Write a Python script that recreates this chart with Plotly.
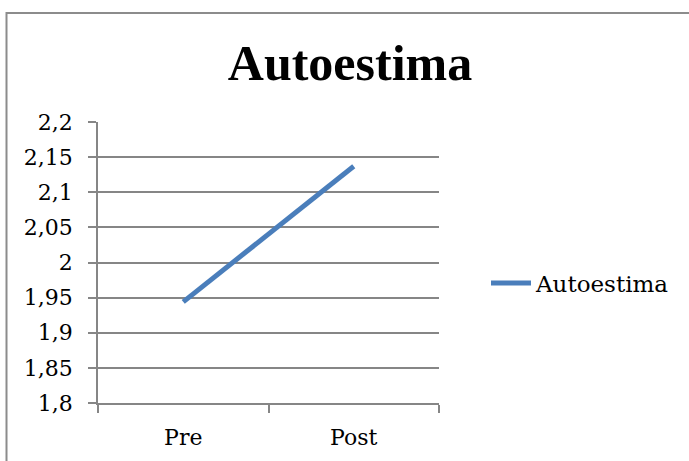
import plotly.graph_objects as go

categories = ["Pre", "Post"]
values = [1.944, 2.137]
series_name = "Autoestima"
title_text = "Autoestima"
y_ticks = [1.8, 1.85, 1.9, 1.95, 2.0, 2.05, 2.1, 2.15, 2.2]
y_labels = ["1,8", "1,85", "1,9", "1,95", "2", "2,05", "2,1", "2,15", "2,2"]

W, H = 689, 461
L, R, T, B = 98, 250, 122, 58
pw, ph = W - L - R, H - T - B

def px2x(px):
    return (px - L) / pw

def py2y(py):
    return (H - B - py) / ph

blue = "#4A7EBB"
grey = "#868686"
font_reg = "DejaVu Serif"

fig = go.Figure()
fig.add_trace(go.Scatter(
    x=categories, y=values, mode="lines", name=series_name,
    line=dict(color=blue, width=5), showlegend=True,
))

fig.update_layout(
    width=W, height=H,
    margin=dict(l=L, r=R, t=T, b=B),
    paper_bgcolor="white", plot_bgcolor="white",
    title=dict(text="<b>" + title_text + "</b>", x=350 / W, xanchor="center",
               y=1 - 62 / H, yanchor="middle", yref="container",
               font=dict(family="Liberation Serif", size=50, color="black")),
    font=dict(family=font_reg, size=22, color="black"),
    xaxis=dict(
        type="category", range=[-0.5, 1.5], tickson="boundaries",
        ticks="outside", ticklen=8, tickcolor=grey, tickwidth=1.5,
        showline=True, linecolor=grey, linewidth=1.5, showgrid=False,
        tickfont=dict(family=font_reg, size=22, color="black"),
        ticklabelstandoff=14, fixedrange=True, zeroline=False,
    ),
    yaxis=dict(
        range=[1.8, 2.2], tickvals=y_ticks, ticktext=y_labels,
        ticks="outside", ticklen=8, tickcolor=grey, tickwidth=1.5,
        showline=True, linecolor=grey, linewidth=1.5,
        showgrid=True, gridcolor=grey, gridwidth=1.5, zeroline=False,
        tickfont=dict(family=font_reg, size=22, color="black"),
        ticklabelstandoff=11, fixedrange=True,
    ),
    legend=dict(
        x=px2x(486), y=py2y(283), xanchor="left", yanchor="middle",
        font=dict(family=font_reg, size=23, color="black"),
        bgcolor="rgba(0,0,0,0)", itemwidth=40,
    ),
    shapes=[
        dict(type="rect", xref="paper", yref="paper",
             x0=px2x(6.5), x1=px2x(700), y0=py2y(480), y1=py2y(13),
             line=dict(color="#8C8C8C", width=2), fillcolor="rgba(0,0,0,0)",
             layer="below"),
    ],
)

fig.write_html("out.html", config={"displayModeBar": False},
               post_script="document.body.style.margin='0';document.body.style.overflow='hidden';")
